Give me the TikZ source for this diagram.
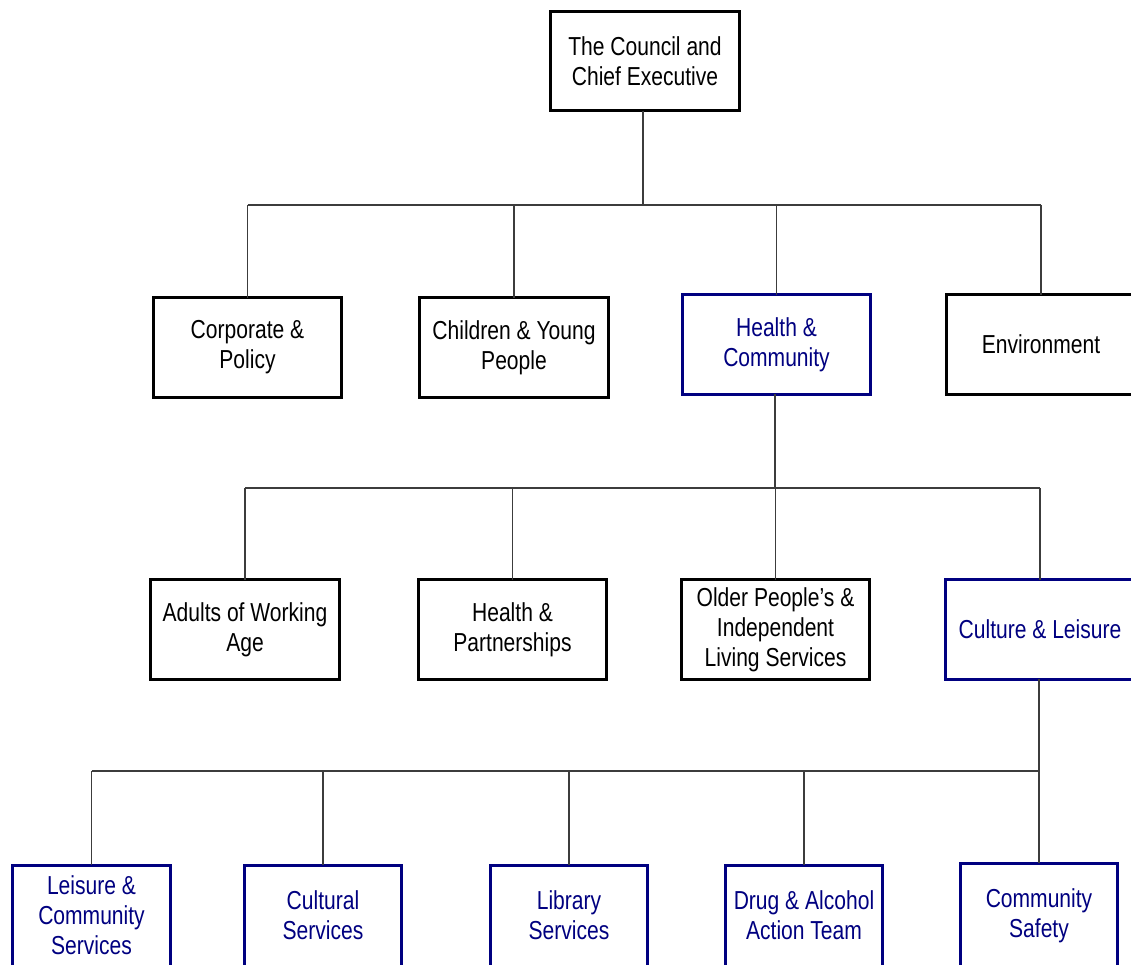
\documentclass[tikz,border=0pt]{standalone}
\usepackage{fontspec}
\setmainfont[FakeStretch=0.81]{Liberation Sans}
\definecolor{navyblue}{RGB}{0,0,128}
\definecolor{linegray}{RGB}{60,60,60}
\newcommand{\liftedtext}[1]{\raisebox{3.5pt}{\begin{tabular}{@{}c@{}}#1\end{tabular}}}
\tikzset{
  box/.style={draw, line width=3pt, minimum width=188.5pt, minimum height=99.5pt,
    align=center, inner sep=0pt, outer sep=0pt, font=\fontsize{26}{30}\selectfont},
  bbox/.style={box, draw=black, text=black},
  nbox/.style={box, draw=navyblue, text=navyblue},
  sbox/.style={nbox, minimum width=157.5pt, minimum height=106pt},
  conn/.style={line width=1.2pt, draw=linegray}
}
\begin{document}
\begin{tikzpicture}[x=1pt,y=-1pt]
\useasboundingbox (0,0) rectangle (1131,965);
\clip (0,0) rectangle (1131,965);
% level 0
\node[bbox] (council) at (645,61) {The Council and\\Chief Executive};
% level 1
\node[bbox] (corp) at (247.5,347.5) {Corporate \&\\Policy};
\node[bbox] (child) at (514,347.5) {Children \& Young\\People};
\node[nbox] (health) at (776.5,344.5) {Health \&\\Community};
\node[bbox] (env) at (1041,344.5) {Environment};
% level 2
\node[bbox] (adults) at (245,629.5) {Adults of Working\\Age};
\node[bbox] (hp) at (512.5,629.5) {Health \&\\Partnerships};
\node[bbox] (older) at (775.5,629.5) {Older People’s \&\\Independent\\Living Services};
\node[nbox] (culture) at (1040,629.5) {Culture \& Leisure};
% level 3
\node[sbox] (leisure) at (91.5,918) {\liftedtext{Leisure \&\\Community\\Services}};
\node[sbox] (cultural) at (323,918) {\liftedtext{Cultural\\Services}};
\node[sbox] (library) at (569,918) {\liftedtext{Library\\Services}};
\node[sbox] (drug) at (804,918) {\liftedtext{Drug \& Alcohol\\Action Team}};
\node[sbox] (safety) at (1039,916) {\liftedtext{Community\\Safety}};
% connectors level 0-1
\coordinate (j1) at (643,205);
\draw[conn] (council.south -| j1) -- (j1);
\draw[conn] (corp.north |- j1) -- (env.north |- j1);
\foreach \n in {corp,child,health,env} \draw[conn] (\n.north |- j1) -- (\n.north);
% connectors level 1-2
\coordinate (j2) at (775,488);
\draw[conn] (health.south -| j2) -- (j2);
\draw[conn] (adults.north |- j2) -- (culture.north |- j2);
\foreach \n in {adults,hp,older,culture} \draw[conn] (\n.north |- j2) -- (\n.north);
% connectors level 2-3
\coordinate (j3) at (1039,771);
\draw[conn] (culture.south -| j3) -- (j3);
\draw[conn] (leisure.north |- j3) -- (safety.north |- j3);
\foreach \n in {leisure,cultural,library,drug,safety} \draw[conn] (\n.north |- j3) -- (\n.north);
\end{tikzpicture}
\end{document}
